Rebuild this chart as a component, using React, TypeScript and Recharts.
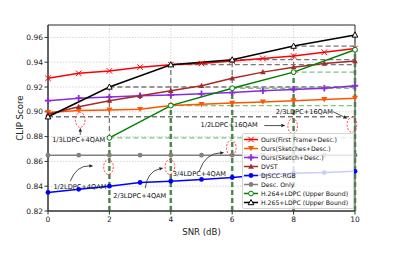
import React from "react";
import {
  LineChart,
  Line,
  XAxis,
  YAxis,
  CartesianGrid,
  ReferenceLine,
  ReferenceDot,
  ReferenceArea,
  Label,
} from "recharts";

const snr = [0, 1, 2, 3, 4, 5, 6, 7, 8, 9, 10];
const firstFrame = [0.927, 0.931, 0.933, 0.936, 0.938, 0.939, 0.941, 0.943, 0.945, 0.948, 0.951];
const sketches = [0.8995, 0.901, 0.9015, 0.902, 0.905, 0.906, 0.907, 0.908, 0.909, 0.91, 0.911];
const sketch = [0.909, 0.911, 0.912, 0.913, 0.9135, 0.9145, 0.9155, 0.917, 0.918, 0.919, 0.921];
const dvst = [0.898, 0.904, 0.909, 0.913, 0.917, 0.921, 0.927, 0.932, 0.936, 0.939, 0.941];
const djscc = [0.835, 0.8375, 0.84, 0.843, 0.844, 0.8455, 0.847, 0.849, 0.8505, 0.851, 0.852];
const descOnly = [0.865, 0.865, 0.865, 0.865, 0.865, 0.865, 0.865, 0.865, 0.865, 0.865, 0.865];
const h264 = [null, null, 0.879, null, 0.905, null, 0.919, null, 0.932, null, 0.95];
const h265 = [0.896, null, 0.92, null, 0.938, null, 0.942, null, 0.953, null, 0.962];

const xTicks = [0, 2, 4, 6, 8, 10];
const yTicks = [0.82, 0.84, 0.86, 0.88, 0.9, 0.92, 0.94, 0.96];

// red dashed circles marking the switching points
const circles = [
  [1.05, 0.8935],
  [1.97, 0.8555],
  [3.97, 0.8555],
  [5.97, 0.871],
  [7.97, 0.8885],
  [9.9, 0.8895],
];

const notes = [
  { text: "1/3LDPC+4QAM", x: 1.0, y: 0.8775 },
  { text: "1/2LDPC+4QAM", x: 1.04, y: 0.8393 },
  { text: "2/3LDPC+4QAM", x: 2.99, y: 0.832 },
  { text: "3/4LDPC+4QAM", x: 4.93, y: 0.8498 },
  { text: "1/2LDPC+16QAM", x: 5.9, y: 0.889 },
  { text: "2/3LDPC+16QAM", x: 8.35, y: 0.9002 },
];

const arrows = [
  { from: [1.052, 0.8815], to: [1.052, 0.8872], bend: 0 },
  { from: [0.726, 0.8441], to: [1.476, 0.8563], bend: 0.35 },
  { from: [3.169, 0.8385], to: [3.756, 0.8547], bend: 0.35 },
  { from: [4.93, 0.8523], to: [5.74, 0.8669], bend: 0.35 },
  { from: [7.046, 0.8889], to: [7.73, 0.8889], bend: 0 },
  { from: [9.293, 0.9], to: [9.749, 0.8945], bend: 0 },
];

const series = [
  { key: "firstFrame", name: "Ours(First Frame+Desc.)", color: "#ff0000", mark: "x", values: firstFrame },
  { key: "sketches", name: "Ours(Sketches+Desc.)", color: "#ff5500", mark: "v", values: sketches },
  { key: "sketch", name: "Ours(Sketch+Desc.)", color: "#8a2be2", mark: "+", values: sketch },
  { key: "dvst", name: "DVST", color: "#a52a2a", mark: "^", values: dvst },
  { key: "djscc", name: "DJSCC-RGB", color: "#0000ff", mark: "o", values: djscc },
  { key: "descOnly", name: "Desc. Only", color: "#808080", mark: "o", values: descOnly },
  { key: "h264", name: "H.264+LDPC (Upper Bound)", color: "#008000", mark: "oo", values: h264 },
  { key: "h265", name: "H.265+LDPC (Upper Bound)", color: "#000000", mark: "^o", values: h265 },
];

const data = snr.map((s, i) => {
  const row: any = { snr: s };
  series.forEach((sr) => (row[sr.key] = sr.values[i]));
  return row;
});

function Mark({ kind, cx, cy, color }: any) {
  if (cx == null || cy == null) return <g />;
  switch (kind) {
    case "x":
      return (
        <path
          d={`M${cx - 2.8},${cy - 2.8}L${cx + 2.8},${cy + 2.8}M${cx - 2.8},${cy + 2.8}L${cx + 2.8},${cy - 2.8}`}
          stroke={color}
          strokeWidth={1}
        />
      );
    case "v":
      return (
        <polygon
          points={`${cx - 3},${cy - 2.4} ${cx + 3},${cy - 2.4} ${cx},${cy + 2.8}`}
          fill={color}
        />
      );
    case "+":
      return (
        <path
          d={`M${cx - 3.2},${cy}L${cx + 3.2},${cy}M${cx},${cy - 3.2}L${cx},${cy + 3.2}`}
          stroke={color}
          strokeWidth={1.8}
        />
      );
    case "^":
      return (
        <polygon
          points={`${cx},${cy - 3} ${cx + 2.8},${cy + 2.2} ${cx - 2.8},${cy + 2.2}`}
          fill={color}
        />
      );
    case "o":
      return <circle cx={cx} cy={cy} r={2.4} fill={color} />;
    case "oo":
      return <circle cx={cx} cy={cy} r={2.4} fill="#fff" stroke={color} strokeWidth={1} />;
    default:
      return (
        <polygon
          points={`${cx},${cy - 3} ${cx + 2.8},${cy + 2.2} ${cx - 2.8},${cy + 2.2}`}
          fill="#fff"
          stroke={color}
          strokeWidth={1}
        />
      );
  }
}

function Arrow(p: any) {
  const { x1, y1, x2, y2, bend } = p;
  if ([x1, y1, x2, y2].some((v) => v == null || isNaN(v))) return <g />;
  const dx = x2 - x1;
  const dy = y2 - y1;
  const mx = (x1 + x2) / 2 + bend * dy;
  const my = (y1 + y2) / 2 - bend * dx;
  const tx = x2 - mx;
  const ty = y2 - my;
  const len = Math.hypot(tx, ty) || 1;
  const ux = tx / len;
  const uy = ty / len;
  const bx = x2 - ux * 4;
  const by = y2 - uy * 4;
  return (
    <g>
      <path d={`M${x1},${y1}Q${mx},${my} ${bx},${by}`} fill="none" stroke="#222" strokeWidth={0.8} />
      <polygon
        points={`${x2},${y2} ${bx - uy * 1.7},${by + ux * 1.7} ${bx + uy * 1.7},${by - ux * 1.7}`}
        fill="#222"
      />
    </g>
  );
}

function LegendBox() {
  return (
    <div
      style={{
        position: "absolute",
        left: 242,
        top: 133,
        width: 112,
        height: 76,
        boxSizing: "border-box",
        paddingTop: 0.5,
        background: "rgba(255,255,255,0.8)",
        border: "1px solid #d4d4d4",
        borderRadius: 2,
        fontSize: 6.2,
        color: "#111",
      }}
    >
      {series.map((s) => (
        <div key={s.key} style={{ display: "flex", alignItems: "center", height: 9 }}>
          <svg width={17} height={9} style={{ marginRight: 1 }}>
            <line x1={1} y1={4.5} x2={15} y2={4.5} stroke={s.color} strokeWidth={1.5} />
            <Mark kind={s.mark} cx={8} cy={4.5} color={s.color} />
          </svg>
          <span style={{ whiteSpace: "nowrap" }}>{s.name}</span>
        </div>
      ))}
    </div>
  );
}

export default function App() {
  const dash = "5 3";
  return (
    <div style={{ position: "relative", width: 407, height: 264, fontFamily: "DejaVu Sans", background: "#fff" }}>
      <style>{"body{margin:0}"}</style>
      <LineChart width={407} height={264} data={data} margin={{ top: 25, right: 52, bottom: 23, left: 8 }}>
        <CartesianGrid stroke="#d6d6d6" strokeDasharray="1.5 1.5" />
        <XAxis
          dataKey="snr"
          type="number"
          domain={[0, 10]}
          ticks={xTicks}
          height={30}
          tickSize={3.5}
          tickMargin={2}
          tick={{ fontSize: 7.5, fill: "#222" }}
          stroke="#333"
        >
          <Label
            content={({ viewBox }: any) => (
              <text
                x={viewBox.x + viewBox.width / 2}
                y={viewBox.y + 21}
                textAnchor="middle"
                dominantBaseline="central"
                fontSize={8.6}
                fill="#222"
              >
                SNR (dB)
              </text>
            )}
          />
        </XAxis>
        <YAxis
          type="number"
          domain={[0.82, 0.97]}
          ticks={yTicks}
          width={40}
          tickSize={3.5}
          tickMargin={1.5}
          tickFormatter={(v: number) => v.toFixed(2)}
          tick={{ fontSize: 7.5, fill: "#222" }}
          stroke="#333"
        >
          <Label
            content={({ viewBox }: any) => {
              const x = viewBox.x + 12;
              const y = viewBox.y + viewBox.height / 2;
              return (
                <text
                  x={x}
                  y={y}
                  transform={`rotate(-90 ${x} ${y})`}
                  textAnchor="middle"
                  dominantBaseline="central"
                  fontSize={8.6}
                  fill="#222"
                >
                  CLIP Score
                </text>
              );
            }}
          />
        </YAxis>

        {snr.map((s, i) =>
          h265[i] != null && s > 0 ? (
            <ReferenceLine
              key={`vg${i}`}
              segment={[{ x: s, y: 0.82 }, { x: s, y: h265[i] }]}
              stroke="#777"
              strokeWidth={1.3}
              strokeDasharray={dash}
            />
          ) : null
        )}
        {snr.map((s, i) =>
          h265[i] != null && s < 10 ? (
            <ReferenceLine
              key={`hg${i}`}
              segment={[{ x: s, y: h265[i] }, { x: 10, y: h265[i] }]}
              stroke="#777"
              strokeWidth={1.3}
              strokeDasharray={dash}
            />
          ) : null
        )}
        {snr.map((s, i) =>
          h264[i] != null && s < 10 ? (
            <ReferenceLine
              key={`hgr${i}`}
              segment={[{ x: s, y: h264[i] }, { x: 10, y: h264[i] }]}
              stroke="#7cc47c"
              strokeWidth={1.3}
              strokeDasharray={dash}
            />
          ) : null
        )}
        {snr.map((s, i) =>
          h264[i] != null ? (
            <ReferenceLine
              key={`vgr${i}`}
              segment={[{ x: s, y: 0.82 }, { x: s, y: h264[i] }]}
              stroke="#3f7f3f"
              strokeOpacity={0.8}
              strokeWidth={2.6}
              strokeDasharray={dash}
            />
          ) : null
        )}

        {series.map((s) => (
          <Line
            key={s.key}
            dataKey={s.key}
            name={s.name}
            stroke={s.color}
            strokeWidth={1.5}
            connectNulls
            isAnimationActive={false}
            dot={(p: any) => <Mark key={`${s.key}-${p.index}`} kind={s.mark} cx={p.cx} cy={p.cy} color={s.color} />}
            activeDot={false}
          />
        ))}

        {circles.map(([x, y], i) => (
          <ReferenceDot
            key={`c${i}`}
            x={x}
            y={y}
            shape={(p: any) => (
              <ellipse
                cx={p.cx}
                cy={p.cy}
                rx={4.8}
                ry={7.5}
                fill="none"
                stroke="#ff3030"
                strokeWidth={0.9}
                strokeDasharray="2 1.5"
              />
            )}
          />
        ))}
        {arrows.map((a, i) => (
          <ReferenceLine
            key={`a${i}`}
            segment={[{ x: a.from[0], y: a.from[1] }, { x: a.to[0], y: a.to[1] }]}
            shape={(p: any) => <Arrow {...p} bend={a.bend} />}
          />
        ))}
        {notes.map((n, i) => (
          <ReferenceDot
            key={`n${i}`}
            x={n.x}
            y={n.y}
            shape={(p: any) => (
              <text x={p.cx} y={p.cy} textAnchor="middle" dominantBaseline="central" fontSize={6.6} fill="#111">
                {n.text}
              </text>
            )}
          />
        ))}
        <ReferenceArea x1={0} x2={10} y1={0.82} y2={0.97} fill="none" stroke="#333" strokeWidth={1} />
      </LineChart>
      <LegendBox />
    </div>
  );
}
